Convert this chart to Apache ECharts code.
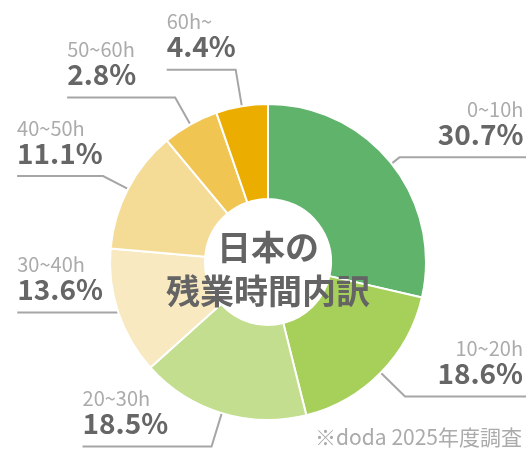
<!DOCTYPE html>
<html>
<head>
<meta charset="utf-8">
<script src="https://cdn.jsdelivr.net/npm/echarts@6/dist/echarts.min.js"></script>
<style>
    html, body { margin: 0; padding: 0; background: #fff; }
    #chart { width: 526px; height: 449px; }
</style>
</head>
<body>
<div id="chart"></div>
<script>
var categories = ['0~10h', '10~20h', '20~30h', '30~40h', '40~50h', '50~60h', '60h~'];
var shareLabels = ['30.7%', '18.6%', '18.5%', '13.6%', '11.1%', '2.8%', '4.4%'];
// 扇形の大きさは図から読み取った値（表示された%とは一致しない）
var sliceShares = [28.6, 17.5, 17.25, 13.0, 12.6, 5.75, 5.3];
var sliceColors = ['#5fb36b', '#a6d05a', '#c3de8e', '#f8e9c0', '#f5dc96', '#f0c552', '#ebae00'];
// 引き出し線の長さ（放射方向 / 水平方向）
var leadLengths = [10, 34, 35, 1, 28, 31, 37];
var tailLengths = [127, 121, 129, 100, 86, 108, 69];

(function() {
"use strict";

    var FONT = '"Noto Sans CJK JP", "Noto Sans", sans-serif';
    var myChart = echarts.init(document.getElementById('chart'), null, { renderer: 'canvas' });

    var seriesData = [];
    for (var i = 0; i < categories.length; i++) {
        seriesData.push({
            name: categories[i],
            value: sliceShares[i],
            itemStyle: { color: sliceColors[i] },
            label: { formatter: '{n|{b}}\n{v|' + shareLabels[i] + '}' },
            labelLine: { length: leadLengths[i], length2: tailLengths[i] }
        });
    }

    var option = {
        animation: false,
        graphic: [{
            type: 'text',
            z: 100,
            x: 268,
            y: 269,
            style: {
                text: '日本の\n残業時間内訳',
                align: 'center',
                verticalAlign: 'middle',
                font: 'bold 34px ' + FONT,
                lineHeight: 44,
                fill: '#646464'
            }
        }, {
            type: 'text',
            z: 100,
            x: 522,
            y: 437,
            style: {
                text: '※doda 2025年度調査',
                align: 'right',
                verticalAlign: 'middle',
                font: '21px ' + FONT,
                fill: '#ababab'
            }
        }],
        series: [{
            type: 'pie',
            center: [268, 262],
            radius: [63, 158],
            startAngle: 90,
            clockwise: true,
            avoidLabelOverlap: false,
            itemStyle: { borderColor: '#fff', borderWidth: 2 },
            emphasis: { disabled: true },
            label: {
                show: true,
                position: 'outside',
                fontFamily: FONT,
                rich: {
                    n: { fontSize: 20, lineHeight: 20, color: '#ababab', fontFamily: FONT },
                    v: { fontSize: 28, lineHeight: 30, fontWeight: 'bold', color: '#666666', fontFamily: FONT }
                }
            },
            labelLine: {
                show: true,
                smooth: false,
                lineStyle: { color: '#a6a6a6', width: 2 }
            },
            // 文字を水平線の上に載せる
            labelLayout: function(p) {
                var pts = p.labelLinePoints;
                if (!pts) return {};
                var end = pts[2];
                var isLeft = end[0] < pts[1][0];
                return {
                    x: isLeft ? end[0] : end[0] - 3,
                    y: end[1] - 8,
                    align: isLeft ? 'left' : 'right',
                    verticalAlign: 'bottom',
                    labelLinePoints: pts
                };
            },
            data: seriesData
        }]
    };
    myChart.setOption(option);
})();
</script>
</body>
</html>
